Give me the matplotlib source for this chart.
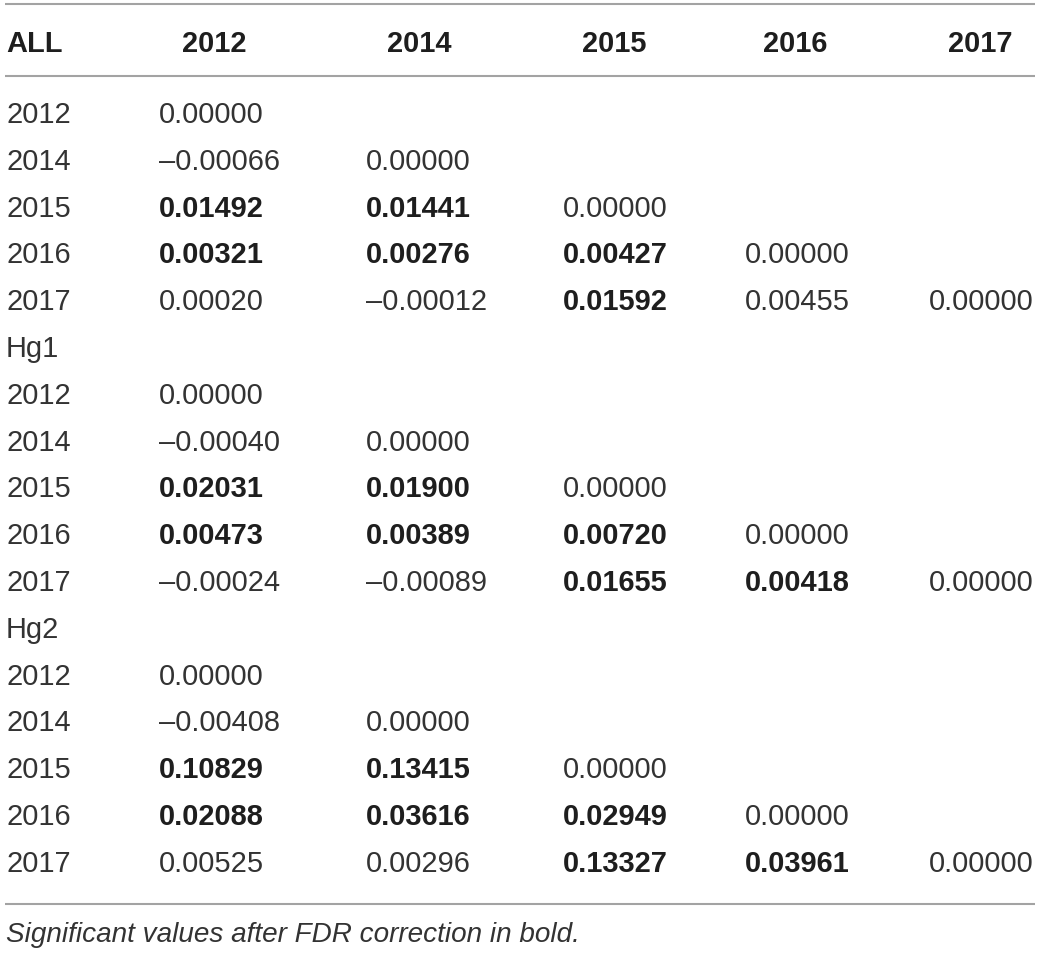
import matplotlib
matplotlib.use("Agg")
import matplotlib.pyplot as plt

# ── Table content ─────────────────────────────────────────────────────
YEARS  = ['2012', '2014', '2015', '2016', '2017']
GROUPS = ['ALL', 'Hg1', 'Hg2']

# lower-triangular pairwise values, one row per year (strings as printed)
VALUES = {
    'ALL': [['0.00000'],
            ['–0.00066', '0.00000'],
            ['0.01492', '0.01441', '0.00000'],
            ['0.00321', '0.00276', '0.00427', '0.00000'],
            ['0.00020', '–0.00012', '0.01592', '0.00455', '0.00000']],
    'Hg1': [['0.00000'],
            ['–0.00040', '0.00000'],
            ['0.02031', '0.01900', '0.00000'],
            ['0.00473', '0.00389', '0.00720', '0.00000'],
            ['–0.00024', '–0.00089', '0.01655', '0.00418', '0.00000']],
    'Hg2': [['0.00000'],
            ['–0.00408', '0.00000'],
            ['0.10829', '0.13415', '0.00000'],
            ['0.02088', '0.03616', '0.02949', '0.00000'],
            ['0.00525', '0.00296', '0.13327', '0.03961', '0.00000']],
}
# significant after FDR correction -> bold
BOLD = {
    'ALL': [[0], [0, 0], [1, 1, 0], [1, 1, 1, 0], [0, 0, 1, 0, 0]],
    'Hg1': [[0], [0, 0], [1, 1, 0], [1, 1, 1, 0], [0, 0, 1, 1, 0]],
    'Hg2': [[0], [0, 0], [1, 1, 0], [1, 1, 1, 0], [0, 0, 1, 1, 0]],
}
FOOTNOTE = 'Significant values after FDR correction in bold.'

# ── Layout (pixel units) ──────────────────────────────────────────────
W, H = 1040, 954
FONT = 'Liberation Sans'
FS = 20.9
TXT = '#333333'
TXT_B = '#1e1e1e'
RULE = '#a3a3a3'
LABEL_X = 6
COL_X = [159, 366, 563, 745, 929]      # left edge of value columns
HEAD_X = [214, 419, 614, 795, 980]     # header centres
HEAD_Y = 42
ROW0_Y, ROW_STEP = 113, 46.8
HALF_CAP = 10

fig = plt.figure(figsize=(W / 100, H / 100), dpi=100)
ax = fig.add_axes([0, 0, 1, 1])
ax.set_xlim(0, W)
ax.set_ylim(H, 0)
ax.axis('off')

def put(x, y, s, bold=False, ha='left', style='normal', fs=FS):
    ax.text(x, y + HALF_CAP, s, ha=ha, va='baseline', fontsize=fs,
            family=[FONT, 'DejaVu Sans'], color=TXT_B if bold else TXT,
            style=style, fontweight='bold' if bold else 'normal')

# header
put(LABEL_X, HEAD_Y, GROUPS[0], bold=True)
for x, yr in zip(HEAD_X, YEARS):
    put(x, HEAD_Y, yr, bold=True, ha='center')

# body
row = 0
for g in GROUPS:
    if g != GROUPS[0]:
        put(LABEL_X, ROW0_Y + row * ROW_STEP, g)
        row += 1
    for yr, vals, bmask in zip(YEARS, VALUES[g], BOLD[g]):
        y = ROW0_Y + row * ROW_STEP
        put(LABEL_X, y, yr)
        for x, v, b in zip(COL_X, vals, bmask):
            put(x, y, v, bold=bool(b))
        row += 1

# rules
for y in (5, 77, 905):
    ax.plot([5, 1035], [y, y], color=RULE, lw=1.5, solid_capstyle='butt')

put(LABEL_X, 932, FOOTNOTE, style='italic', fs=20.1)

fig.savefig('out.png', dpi=100)
